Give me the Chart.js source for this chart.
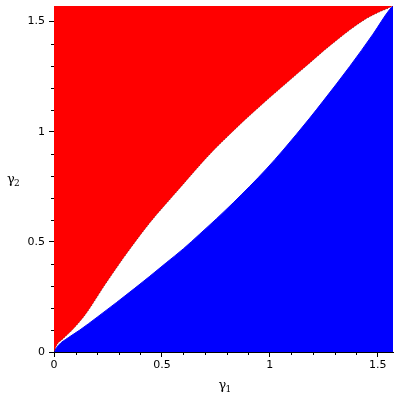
<!DOCTYPE html>
<html>
<head>
<meta charset="utf-8">
<script src="https://cdn.jsdelivr.net/npm/chart.js@4"></script>
<style>
  html, body { margin:0; padding:0; background:#fff; }
  #wrap { width:400px; height:400px; }
</style>
</head>
<body>
<div id="wrap"><canvas id="myChart" width="400" height="400"></canvas></div>
<script>
const HALF_PI = Math.PI / 2;

// red / white boundary (upper curve)
const upperX = [0, 0.015, 0.036, 0.08, 0.15, 0.23, 0.32, 0.41, 0.475, 0.55, 0.63, 0.707, 0.784, 0.861, 0.938, 1.0, 1.139, 1.293, 1.448, 1.5708];
const upperY = [0, 0.035, 0.055, 0.095, 0.176, 0.296, 0.424, 0.544, 0.623, 0.707, 0.797, 0.882, 0.959, 1.032, 1.101, 1.155, 1.273, 1.402, 1.514, 1.5708];

// white / blue boundary (lower curve)
const lowerX = [0, 0.02, 0.066, 0.12, 0.2, 0.29, 0.375, 0.444, 0.52, 0.6, 0.676, 0.753, 0.83, 0.907, 0.984, 1.062, 1.185, 1.247, 1.37, 1.478, 1.556, 1.5708];
const lowerY = [0, 0.03, 0.065, 0.1, 0.158, 0.225, 0.29, 0.344, 0.405, 0.469, 0.536, 0.605, 0.677, 0.752, 0.831, 0.917, 1.062, 1.139, 1.296, 1.443, 1.556, 1.5708];

const majorTicks = [0, 0.5, 1, 1.5];
const minorTicks = [0.1, 0.2, 0.3, 0.4, 0.6, 0.7, 0.8, 0.9, 1.1, 1.2, 1.3, 1.4];

const toPoints = (xs, ys) => xs.map((x, i) => ({ x: x, y: ys[i] }));

const tickFont = { family: 'DejaVu Sans', size: 11 };

// short minor ticks + gamma axis titles
const extras = {
  id: 'extras',
  afterDraw(chart) {
    const ctx = chart.ctx;
    const xs = chart.scales.x, ys = chart.scales.y;
    const area = chart.chartArea;
    ctx.save();
    ctx.strokeStyle = '#000';
    ctx.lineWidth = 1;
    ctx.beginPath();
    minorTicks.forEach(v => {
      const px = Math.round(xs.getPixelForValue(v)) + 0.5;
      ctx.moveTo(px, area.bottom);
      ctx.lineTo(px, area.bottom + 3);
      const py = Math.round(ys.getPixelForValue(v)) + 0.5;
      ctx.moveTo(area.left, py);
      ctx.lineTo(area.left - 3, py);
    });
    ctx.stroke();

    ctx.fillStyle = '#000';
    ctx.textBaseline = 'alphabetic';
    ctx.textAlign = 'left';
    // x title
    const cx = (area.left + area.right) / 2;
    ctx.font = '13px "DejaVu Serif"';
    ctx.fillText('γ', cx - 5, 389);
    ctx.font = '9px "DejaVu Serif"';
    ctx.fillText('1', cx + 2, 392);
    // y title
    const cy = (area.top + area.bottom) / 2;
    ctx.font = '13px "DejaVu Serif"';
    ctx.fillText('γ', 7, cy + 4);
    ctx.font = '9px "DejaVu Serif"';
    ctx.fillText('2', 14, cy + 7);
    ctx.restore();
  }
};

const ctx = document.getElementById('myChart').getContext('2d');

new Chart(ctx, {
  type: 'line',
  data: {
    datasets: [
      {
        label: 'upper',
        data: toPoints(upperX, upperY),
        borderColor: 'rgba(0,0,0,0.55)',
        borderWidth: 1,
        borderDash: [1, 2],
        backgroundColor: '#ff0000',
        fill: 'end',
        pointRadius: 0,
        cubicInterpolationMode: 'monotone'
      },
      {
        label: 'lower',
        data: toPoints(lowerX, lowerY),
        borderColor: '#0000ff',
        borderWidth: 1,
        backgroundColor: '#0000ff',
        fill: 'start',
        pointRadius: 0,
        cubicInterpolationMode: 'monotone'
      }
    ]
  },
  options: {
    responsive: false,
    animation: false,
    layout: { padding: { left: 0, right: 7, top: 6, bottom: 0 } },
    plugins: {
      legend: { display: false },
      tooltip: { enabled: false }
    },
    scales: {
      x: {
        type: 'linear',
        min: 0,
        max: HALF_PI,
        afterBuildTicks: s => { s.ticks = majorTicks.map(v => ({ value: v })); },
        afterFit: s => { s.height = 48; s.paddingLeft = 0; s.paddingRight = 0; },
        ticks: {
          font: tickFont,
          color: '#000',
          padding: 2,
          maxRotation: 0,
          callback: v => String(v)
        },
        grid: { drawOnChartArea: false, tickLength: 5, tickColor: '#000' },
        border: { display: true, color: '#000', width: 1 }
      },
      y: {
        type: 'linear',
        min: 0,
        max: HALF_PI,
        afterBuildTicks: s => { s.ticks = majorTicks.map(v => ({ value: v })); },
        afterFit: s => { s.width = 54; s.paddingTop = 0; s.paddingBottom = 0; },
        ticks: {
          font: tickFont,
          color: '#000',
          padding: 4,
          callback: v => String(v)
        },
        grid: { drawOnChartArea: false, tickLength: 5, tickColor: '#000' },
        border: { display: true, color: '#000', width: 1 }
      }
    }
  },
  plugins: [extras]
});
</script>
</body>
</html>
